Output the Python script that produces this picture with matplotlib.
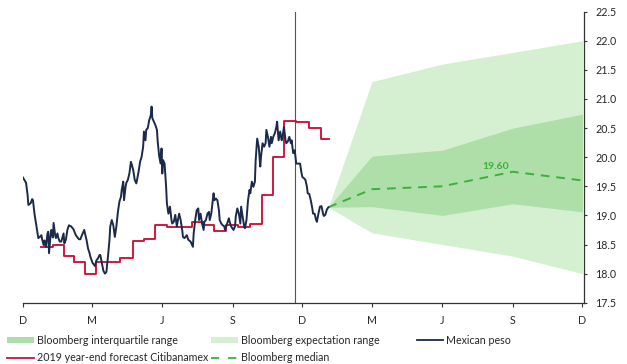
import numpy as np
import matplotlib
matplotlib.use("Agg")
import matplotlib.pyplot as plt
from matplotlib.patches import Rectangle
from matplotlib.lines import Line2D

plt.rcParams["font.family"] = ["Lato", "DejaVu Sans"]

BASE = np.datetime64("2018-12-01")

# Mexican peso (MXN per USD), days since 1 Dec 2018
peso_days = [0, 4, 6, 7, 10, 12, 13, 15, 17, 19, 20, 22, 24, 25, 27, 28, 30, 32, 33, 34,
             36, 37, 39, 40, 42, 43, 45, 46, 48, 50, 53, 54, 56, 58, 60, 63, 66, 69, 73, 75,
             77, 80, 81, 83, 85, 87, 88, 91, 93, 94, 96, 98, 100, 101, 103, 105, 107, 109, 111, 113,
             114, 116, 118, 120, 122, 124, 126, 128, 129, 131, 132, 134, 135, 137, 139, 141, 142, 144, 146, 148,
             149, 151, 153, 155, 157, 158, 160, 161, 163, 165, 167, 168, 169, 171, 173, 175, 176, 178, 180, 181,
             182, 183, 185, 187, 188, 190, 192, 194, 195, 197, 199, 201, 202, 204, 206, 208, 209, 211, 214, 216,
             219, 222, 223, 225, 227, 229, 230, 232, 234, 236, 237, 239, 241, 243, 244, 246, 249, 250, 252, 254,
             256, 257, 259, 261, 263, 264, 266, 269, 270, 272, 275, 277, 278, 280, 282, 284, 285, 287, 289, 290,
             292, 294, 296, 297, 299, 301, 303, 304, 306, 308, 310, 311, 313, 315, 317, 318, 320, 322, 324, 325,
             327, 329, 331, 332, 334, 336, 338, 339, 341, 343, 344, 346, 348, 350, 351, 353, 355, 357, 358, 362,
             364, 365, 367, 369, 371, 372, 374, 376, 378, 379, 381, 383, 384, 386, 388, 390, 392, 393, 395, 397,
             399]
peso_values = [19.65, 19.56, 19.35, 19.18, 19.21, 19.28, 19.26, 19.03, 18.86, 18.69, 18.61, 18.63, 18.66, 18.59, 18.49, 18.57, 18.46, 18.69, 18.72, 18.35,
               18.66, 18.75, 18.62, 18.87, 18.66, 18.61, 18.69, 18.62, 18.55, 18.55, 18.69, 18.52, 18.58, 18.75, 18.83, 18.81, 18.76, 18.66, 18.59, 18.59,
               18.66, 18.75, 18.69, 18.58, 18.43, 18.35, 18.29, 18.18, 18.15, 18.13, 18.23, 18.26, 18.32, 18.32, 18.18, 18.05, 18.00, 18.03, 18.29, 18.58,
               18.81, 18.92, 18.83, 18.63, 18.81, 19.06, 19.24, 19.32, 19.44, 19.58, 19.26, 19.49, 19.56, 19.61, 19.72, 19.92, 19.88, 19.78, 19.61, 19.55,
               19.61, 19.75, 19.92, 20.01, 20.18, 20.44, 20.29, 20.47, 20.50, 20.64, 20.72, 20.87, 20.67, 20.61, 20.55, 20.47, 20.27, 20.01, 19.89, 20.15,
               19.72, 19.95, 19.89, 19.49, 19.21, 19.03, 19.15, 18.92, 18.86, 18.89, 19.01, 18.81, 18.89, 19.03, 18.92, 18.75, 18.63, 18.61, 18.66, 18.58,
               18.55, 18.46, 18.69, 18.92, 19.09, 19.12, 18.92, 19.03, 18.86, 18.75, 18.89, 18.92, 19.03, 19.06, 18.92, 19.03, 19.38, 19.26, 19.29, 19.26,
               19.09, 18.92, 18.86, 18.83, 18.81, 18.75, 18.83, 18.95, 18.89, 18.81, 18.75, 18.81, 18.98, 19.12, 19.03, 18.86, 19.15, 18.98, 18.81, 18.78,
               18.92, 19.26, 19.44, 19.38, 19.58, 19.49, 19.58, 19.95, 20.32, 20.18, 19.84, 20.01, 20.24, 20.18, 20.24, 20.47, 20.35, 20.18, 20.35, 20.24,
               20.35, 20.41, 20.52, 20.61, 20.29, 20.44, 20.29, 20.35, 20.52, 20.29, 20.24, 20.27, 20.35, 20.24, 20.29, 20.07, 20.12, 19.89, 19.89, 19.89,
               19.72, 19.66, 19.64, 19.61, 19.49, 19.38, 19.37, 19.26, 19.12, 19.03, 19.03, 18.92, 18.89, 19.03, 19.15, 19.16, 19.03, 18.99, 19.01, 19.10,
               19.14]

# Citibanamex survey: 2019 year-end forecast (change dates, days since 1 Dec 2018)
citi_days = [24, 39, 53, 67, 81, 96, 127, 144, 158, 173, 188, 221, 236, 250, 265, 281,
             296, 312, 327, 341, 357, 374, 389, 400]
citi_values = [18.46, 18.50, 18.30, 18.20, 18.00, 18.20, 18.27, 18.56, 18.60, 18.83, 18.80, 18.89,
               18.84, 18.74, 18.84, 18.80, 18.85, 19.35, 20.00, 20.63, 20.60, 20.50, 20.32, 20.32]

# Bloomberg survey for the coming year
fc_dates = ["2020-03-01", "2020-06-01", "2020-09-01", "2020-12-01"]
exp_high = [21.30, 21.60, 21.80, 22.00]
exp_low = [18.70, 18.50, 18.30, 18.00]
iqr_high = [20.02, 20.12, 20.50, 20.74]
iqr_low = [19.15, 19.00, 19.20, 19.06]
median = [19.45, 19.50, 19.75, 19.60]

tick_dates = ["2018-12-01", "2019-03-01", "2019-06-01", "2019-09-01", "2019-12-01",
              "2020-03-01", "2020-06-01", "2020-09-01", "2020-12-01"]
tick_labels = ["D", "M", "J", "S", "D", "M", "J", "S", "D"]
cutoff_date = "2019-11-22"

C_EXP = "#d4f0d0"
C_IQR = "#aedfa9"
C_MED = "#3bb13b"
C_PESO = "#1b2a4a"
C_CITI = "#cc1238"
C_TEXT = "#262626"

W, H = 627, 364
fig = plt.figure(figsize=(W / 100, H / 100), dpi=100)
ax = fig.add_axes([23 / W, 1 - 302.7 / H, (584 - 23) / W, (302.7 - 11.7) / H])

peso_dates = BASE + np.array(peso_days, dtype="timedelta64[D]")
citi_dates = BASE + np.array(citi_days, dtype="timedelta64[D]")

# forecast fan starts from the last observed rate
f_dates = np.concatenate([peso_dates[-1:], np.array(fc_dates, dtype="datetime64[D]")])
start = peso_values[-1]
ax.fill_between(f_dates, [start] + exp_low, [start] + exp_high, color=C_EXP, lw=0, zorder=1)
ax.fill_between(f_dates, [start] + iqr_low, [start] + iqr_high, color=C_IQR, lw=0, zorder=2)
ax.plot(f_dates, [start] + median, color=C_MED, lw=1.4, ls=(0, (4.5, 3.5)), zorder=4)

ax.plot(citi_dates, citi_values, drawstyle="steps-post", color=C_CITI, lw=1.35, zorder=3)
ax.plot(peso_dates, peso_values, color=C_PESO, lw=1.4, zorder=5)

ax.axvline(np.datetime64(cutoff_date), color="#555555", lw=0.8, zorder=2)

label_date = np.datetime64("2020-08-09")
ax.text(label_date, median[-1] + 0.24, f"{median[-1]:.2f}", color=C_MED, fontsize=7.5,
        fontweight="bold", ha="center", va="center", zorder=6)

ax.set_xlim(BASE, np.datetime64("2020-12-03"))
ax.set_ylim(17.5, 22.5)
ax.set_xticks(np.array(tick_dates, dtype="datetime64[D]"))
ax.set_xticklabels(tick_labels)
ax.set_yticks(np.arange(17.5, 22.51, 0.5))
ax.yaxis.set_major_formatter(matplotlib.ticker.FormatStrFormatter("%.1f"))
ax.yaxis.tick_right()

for side in ("top", "left"):
    ax.spines[side].set_visible(False)
for side in ("bottom", "right"):
    ax.spines[side].set_color("#333333")
    ax.spines[side].set_linewidth(0.9)
ax.tick_params(axis="x", length=3, width=0.8, color="#333333", labelsize=7.7,
               labelcolor=C_TEXT, pad=6)
ax.tick_params(axis="y", length=2.5, width=0.8, color="#333333", labelsize=7.7,
               labelcolor=C_TEXT, pad=5.5)
for lbl in ax.get_yticklabels():
    lbl.set_horizontalalignment("left")


def fx(px):
    return px / W


def fy(py):
    return 1 - py / H


def legend_patch(x0, x1, y, color, text, tx):
    fig.add_artist(Rectangle((fx(x0), fy(y + 3.4)), (x1 - x0) / W, 6.8 / H,
                             transform=fig.transFigure, color=color, lw=0))
    fig.text(fx(tx), fy(y), text, fontsize=7.7, color=C_TEXT, va="center", ha="left")


def legend_line(x0, x1, y, color, ls, text, tx):
    fig.add_artist(Line2D([fx(x0), fx(x1)], [fy(y), fy(y)], transform=fig.transFigure,
                          color=color, lw=1.3, ls=ls))
    fig.text(fx(tx), fy(y), text, fontsize=7.7, color=C_TEXT, va="center", ha="left")


legend_patch(7.3, 34.3, 340, C_IQR, "Bloomberg interquartile range", 37)
legend_patch(211, 238, 340, C_EXP, "Bloomberg expectation range", 241)
legend_line(417, 443, 340, C_PESO, "-", "Mexican peso", 446)
legend_line(7.3, 34.3, 357.5, C_CITI, "-", "2019 year-end forecast Citibanamex", 37)
legend_line(211, 238, 357.5, C_MED, (0, (4.5, 5)), "Bloomberg median", 241)

fig.savefig("out.png", dpi=100)
